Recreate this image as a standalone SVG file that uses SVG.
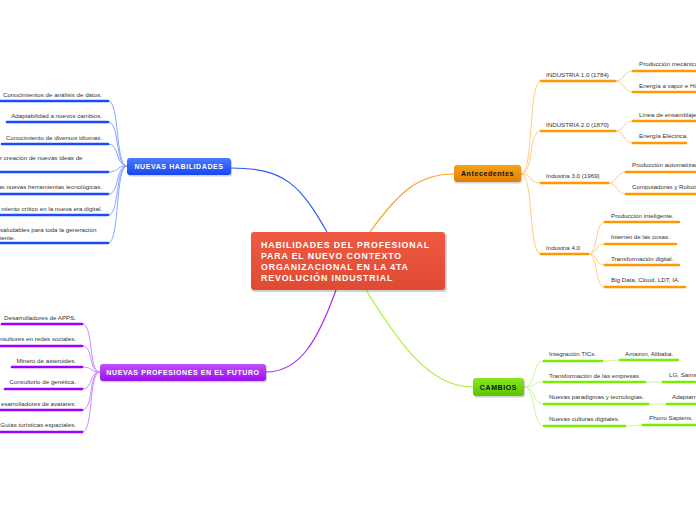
<svg xmlns="http://www.w3.org/2000/svg" width="696" height="520" viewBox="0 0 696 520">
<defs>
<linearGradient id="gC" x1="0" y1="0" x2="0" y2="1"><stop offset="0" stop-color="#ee5a42"/><stop offset="1" stop-color="#e04a32"/></linearGradient>
<linearGradient id="gB" x1="0" y1="0" x2="0" y2="1"><stop offset="0" stop-color="#4d7bff"/><stop offset="1" stop-color="#1646f2"/></linearGradient>
<linearGradient id="gP" x1="0" y1="0" x2="0" y2="1"><stop offset="0" stop-color="#c050ff"/><stop offset="1" stop-color="#9a10ee"/></linearGradient>
<linearGradient id="gO" x1="0" y1="0" x2="0" y2="1"><stop offset="0" stop-color="#f7a21c"/><stop offset="1" stop-color="#e08000"/></linearGradient>
<linearGradient id="gG" x1="0" y1="0" x2="0" y2="1"><stop offset="0" stop-color="#88e820"/><stop offset="1" stop-color="#5cc400"/></linearGradient>
</defs>
<style>
.t{font-family:"Liberation Sans",Arial,sans-serif;font-size:6.2px;fill:#333}
.nt{font-family:"Liberation Sans",Arial,sans-serif;font-weight:bold;font-size:7px;text-anchor:middle;letter-spacing:0.6px}
.ct{font-family:"Liberation Sans",Arial,sans-serif;font-weight:bold;font-size:8.8px;fill:#fff;letter-spacing:0.85px}
.sh{fill:#000;opacity:0.18}
.c{fill:none}
.ub{stroke:#1a4cff;stroke-width:2.6;stroke-linecap:round}
.up{stroke:#9d00ff;stroke-width:2.6;stroke-linecap:round}
.uo{stroke:#ff9900;stroke-width:2.6;stroke-linecap:round}
.ug{stroke:#77ee00;stroke-width:2.6;stroke-linecap:round}
.cb{stroke:#2a5cff;stroke-width:1.2}
.cbs{stroke:#8aa6ff;stroke-width:1}
.cp{stroke:#a82cf5;stroke-width:1.2}
.cps{stroke:#cc8cff;stroke-width:1}
.co{stroke:#ff9d1a;stroke-width:1.2}
.cos{stroke:#ffcc88;stroke-width:1}
.cg{stroke:#a6f23a;stroke-width:1.2}
.cgs{stroke:#ccf59a;stroke-width:1}
</style>
<g id="connectors">
<path class="c cb" d="M231,168 C285,168 300,185 327,232"/>
<path class="c cp" d="M266,372 C300,372 318,340 336,290"/>
<path class="c co" d="M370,232 C400,190 420,174 454,174"/>
<path class="c cg" d="M366,290 C400,345 430,387 473,387"/>
<g class="c cbs">
<path d="M127,166 C115,166 120,101 108,101"/>
<path d="M127,166 C115,166 120,122 108,122"/>
<path d="M127,166 C115,166 120,144 108,144"/>
<path d="M127,166 C115,166 120,172 108,172"/>
<path d="M127,166 C115,166 120,194 108,194"/>
<path d="M127,166 C115,166 120,215 108,215"/>
<path d="M127,166 C115,166 120,243 108,243"/>
</g>
<g class="c cps">
<path d="M100,372 C88,372 94,324 82,324"/>
<path d="M100,372 C88,372 94,346 82,346"/>
<path d="M100,372 C88,372 94,367 82,367"/>
<path d="M100,372 C88,372 94,389 82,389"/>
<path d="M100,372 C88,372 94,410 82,410"/>
<path d="M100,372 C88,372 94,432 82,432"/>
</g>
<g class="c cos">
<path d="M521,174 C534,174 528,81 541,81"/>
<path d="M521,174 C534,174 528,131 541,131"/>
<path d="M521,174 C534,174 528,183 541,183"/>
<path d="M521,174 C534,174 528,254 541,254"/>
<path d="M615,81 C625,81 623,71 633,71"/>
<path d="M615,81 C625,81 623,92 633,92"/>
<path d="M615,131 C625,131 623,121 633,121"/>
<path d="M615,131 C625,131 623,143 633,143"/>
<path d="M608,183 C618,183 616,172 626,172"/>
<path d="M608,183 C618,183 616,194 626,194"/>
<path d="M588,254 C599,254 594,222 605,222"/>
<path d="M588,254 C599,254 594,244 605,244"/>
<path d="M588,254 C599,254 594,265 605,265"/>
<path d="M588,254 C599,254 594,287 605,287"/>
</g>
<g class="c cgs">
<path d="M524,387 C536,387 532,361 544,361"/>
<path d="M524,387 C536,387 532,382 544,382"/>
<path d="M524,387 C536,387 532,404 544,404"/>
<path d="M524,387 C536,387 532,426 544,426"/>
<path d="M602,361 C611,361 611,360 620,360"/>
<path d="M645,382 C654,382 654,382 663,382"/>
<path d="M648,404 C657,404 658,404 667,404"/>
<path d="M625,426 C634,426 634,425 643,425"/>
</g>
</g>
<g id="central">
<rect class="sh" x="252" y="234" width="195" height="58" rx="3"/>
<rect x="251" y="232" width="194" height="58" rx="3" fill="url(#gC)"/>
<text class="ct" x="261" y="248">HABILIDADES DEL PROFESIONAL</text>
<text class="ct" x="261" y="259">PARA EL NUEVO CONTEXTO</text>
<text class="ct" x="261" y="270">ORGANIZACIONAL EN LA 4TA</text>
<text class="ct" x="261" y="281">REVOLUCIÓN INDUSTRIAL</text>
</g>
<g id="nuevas-habilidades">
<rect class="sh" x="128" y="159.5" width="104" height="17" rx="3"/>
<rect x="127" y="158" width="104" height="17" rx="3" fill="url(#gB)"/>
<text class="nt" x="179" y="169" fill="#fff">NUEVAS HABILIDADES</text>
</g>
<g id="nh-items">
<text class="t" x="102" y="97" text-anchor="end">Conocimientos de análisis de datos.</text>
<line class="ub" x1="-2" y1="101" x2="108" y2="101"/>
<text class="t" x="102" y="118" text-anchor="end">Adaptabilidad a nuevos cambios.</text>
<line class="ub" x1="7" y1="122" x2="108" y2="122"/>
<text class="t" x="102" y="140" text-anchor="end">Conocimiento de diversos idiomas.</text>
<line class="ub" x1="2" y1="144" x2="108" y2="144"/>
<text class="t" x="0" y="160">r creación de nuevas ideas de</text>
<line class="ub" x1="-2" y1="172" x2="108" y2="172"/>
<text class="t" x="102" y="189" text-anchor="end">as nuevas herramientas tecnológicas.</text>
<line class="ub" x1="-2" y1="194" x2="108" y2="194"/>
<text class="t" x="102" y="211" text-anchor="end">miento crítico en la nueva era digital.</text>
<line class="ub" x1="-2" y1="215" x2="108" y2="215"/>
<text class="t" x="0" y="232">saludables para toda la generación</text>
<text class="t" x="0" y="239.5">iente.</text>
<line class="ub" x1="-2" y1="243" x2="108" y2="243"/>
</g>
<g id="nuevas-profesiones">
<rect class="sh" x="101" y="365.5" width="166" height="17" rx="3"/>
<rect x="100" y="364" width="166" height="17" rx="3" fill="url(#gP)"/>
<text class="nt" x="183" y="375" fill="#fff">NUEVAS PROFESIONES EN EL FUTURO</text>
</g>
<g id="np-items">
<text class="t" x="76" y="320" text-anchor="end">Desarrolladores de APPS.</text>
<line class="up" x1="2" y1="324" x2="82" y2="324"/>
<text class="t" x="76" y="341" text-anchor="end">nsultores en redes sociales.</text>
<line class="up" x1="-2" y1="346" x2="82" y2="346"/>
<text class="t" x="76" y="363" text-anchor="end">Minero de asteroides.</text>
<line class="up" x1="12" y1="367" x2="82" y2="367"/>
<text class="t" x="76" y="384" text-anchor="end">Consultorio de genética.</text>
<line class="up" x1="5" y1="389" x2="82" y2="389"/>
<text class="t" x="76" y="406" text-anchor="end">esarrolladores de avatares.</text>
<line class="up" x1="-2" y1="410" x2="82" y2="410"/>
<text class="t" x="76" y="427" text-anchor="end">Guías turísticas  espaciales.</text>
<line class="up" x1="-2" y1="432" x2="82" y2="432"/>
</g>
<g id="antecedentes">
<rect class="sh" x="455" y="166.5" width="67" height="17" rx="3"/>
<rect x="454" y="165" width="67" height="17" rx="3" fill="url(#gO)"/>
<text class="nt" x="487.5" y="176" fill="#111">Antecedentes</text>
</g>
<g id="ant-items">
<text class="t" x="546" y="77">INDUSTRIA 1.0 (1784)</text>
<line class="uo" x1="541" y1="81" x2="615" y2="81"/>
<text class="t" x="639" y="66">Producción mecánica</text>
<line class="uo" x1="633" y1="71" x2="698" y2="71"/>
<text class="t" x="639" y="88">Energía a vapor e Hi</text>
<line class="uo" x1="633" y1="92" x2="698" y2="92"/>
<text class="t" x="546" y="127">INDUSTRIA 2.0 (1870)</text>
<line class="uo" x1="541" y1="131" x2="615" y2="131"/>
<text class="t" x="639" y="117">Línea de ensamblaje</text>
<line class="uo" x1="633" y1="121" x2="698" y2="121"/>
<text class="t" x="639" y="138">Energía Eléctrica.</text>
<line class="uo" x1="633" y1="143" x2="686" y2="143"/>
<text class="t" x="546" y="178">Industria 3.0 (1969)</text>
<line class="uo" x1="541" y1="183" x2="608" y2="183"/>
<text class="t" x="632" y="167">Producción automatizad</text>
<line class="uo" x1="626" y1="172" x2="698" y2="172"/>
<text class="t" x="632" y="189">Computadoras y Robots</text>
<line class="uo" x1="626" y1="194" x2="698" y2="194"/>
<text class="t" x="546" y="250">Industria 4.0</text>
<line class="uo" x1="541" y1="254" x2="588" y2="254"/>
<text class="t" x="611" y="218">Producción inteligente.</text>
<line class="uo" x1="605" y1="222" x2="679" y2="222"/>
<text class="t" x="611" y="239">Internet de las cosas.</text>
<line class="uo" x1="605" y1="244" x2="676" y2="244"/>
<text class="t" x="611" y="261">Transformación digital.</text>
<line class="uo" x1="605" y1="265" x2="679" y2="265"/>
<text class="t" x="611" y="282">Big Data, Cloud, LDT, IA.</text>
<line class="uo" x1="605" y1="287" x2="685" y2="287"/>
</g>
<g id="cambios">
<rect class="sh" x="474" y="379.5" width="51" height="18" rx="3"/>
<rect x="473" y="378" width="51" height="18" rx="3" fill="url(#gG)"/>
<text class="nt" x="498.5" y="389.5" fill="#111">CAMBIOS</text>
</g>
<g id="cambios-items">
<text class="t" x="549" y="356">Integración TICs.</text>
<line class="ug" x1="544" y1="361" x2="602" y2="361"/>
<text class="t" x="625" y="356">Amazon, Alibaba.</text>
<line class="ug" x1="620" y1="360" x2="678" y2="360"/>
<text class="t" x="549" y="378">Transformación de las empresas.</text>
<line class="ug" x1="544" y1="382" x2="645" y2="382"/>
<text class="t" x="669" y="377">LG, Samsu</text>
<line class="ug" x1="663" y1="382" x2="698" y2="382"/>
<text class="t" x="549" y="399">Nuevas paradigmas y tecnologías.</text>
<line class="ug" x1="544" y1="404" x2="648" y2="404"/>
<text class="t" x="672" y="399">Adaptarn</text>
<line class="ug" x1="667" y1="404" x2="698" y2="404"/>
<text class="t" x="549" y="421">Nuevas culturas digitales.</text>
<line class="ug" x1="544" y1="426" x2="625" y2="426"/>
<text class="t" x="649" y="420">Phono Sapiens.</text>
<line class="ug" x1="643" y1="425" x2="698" y2="425"/>
</g>
</svg>
